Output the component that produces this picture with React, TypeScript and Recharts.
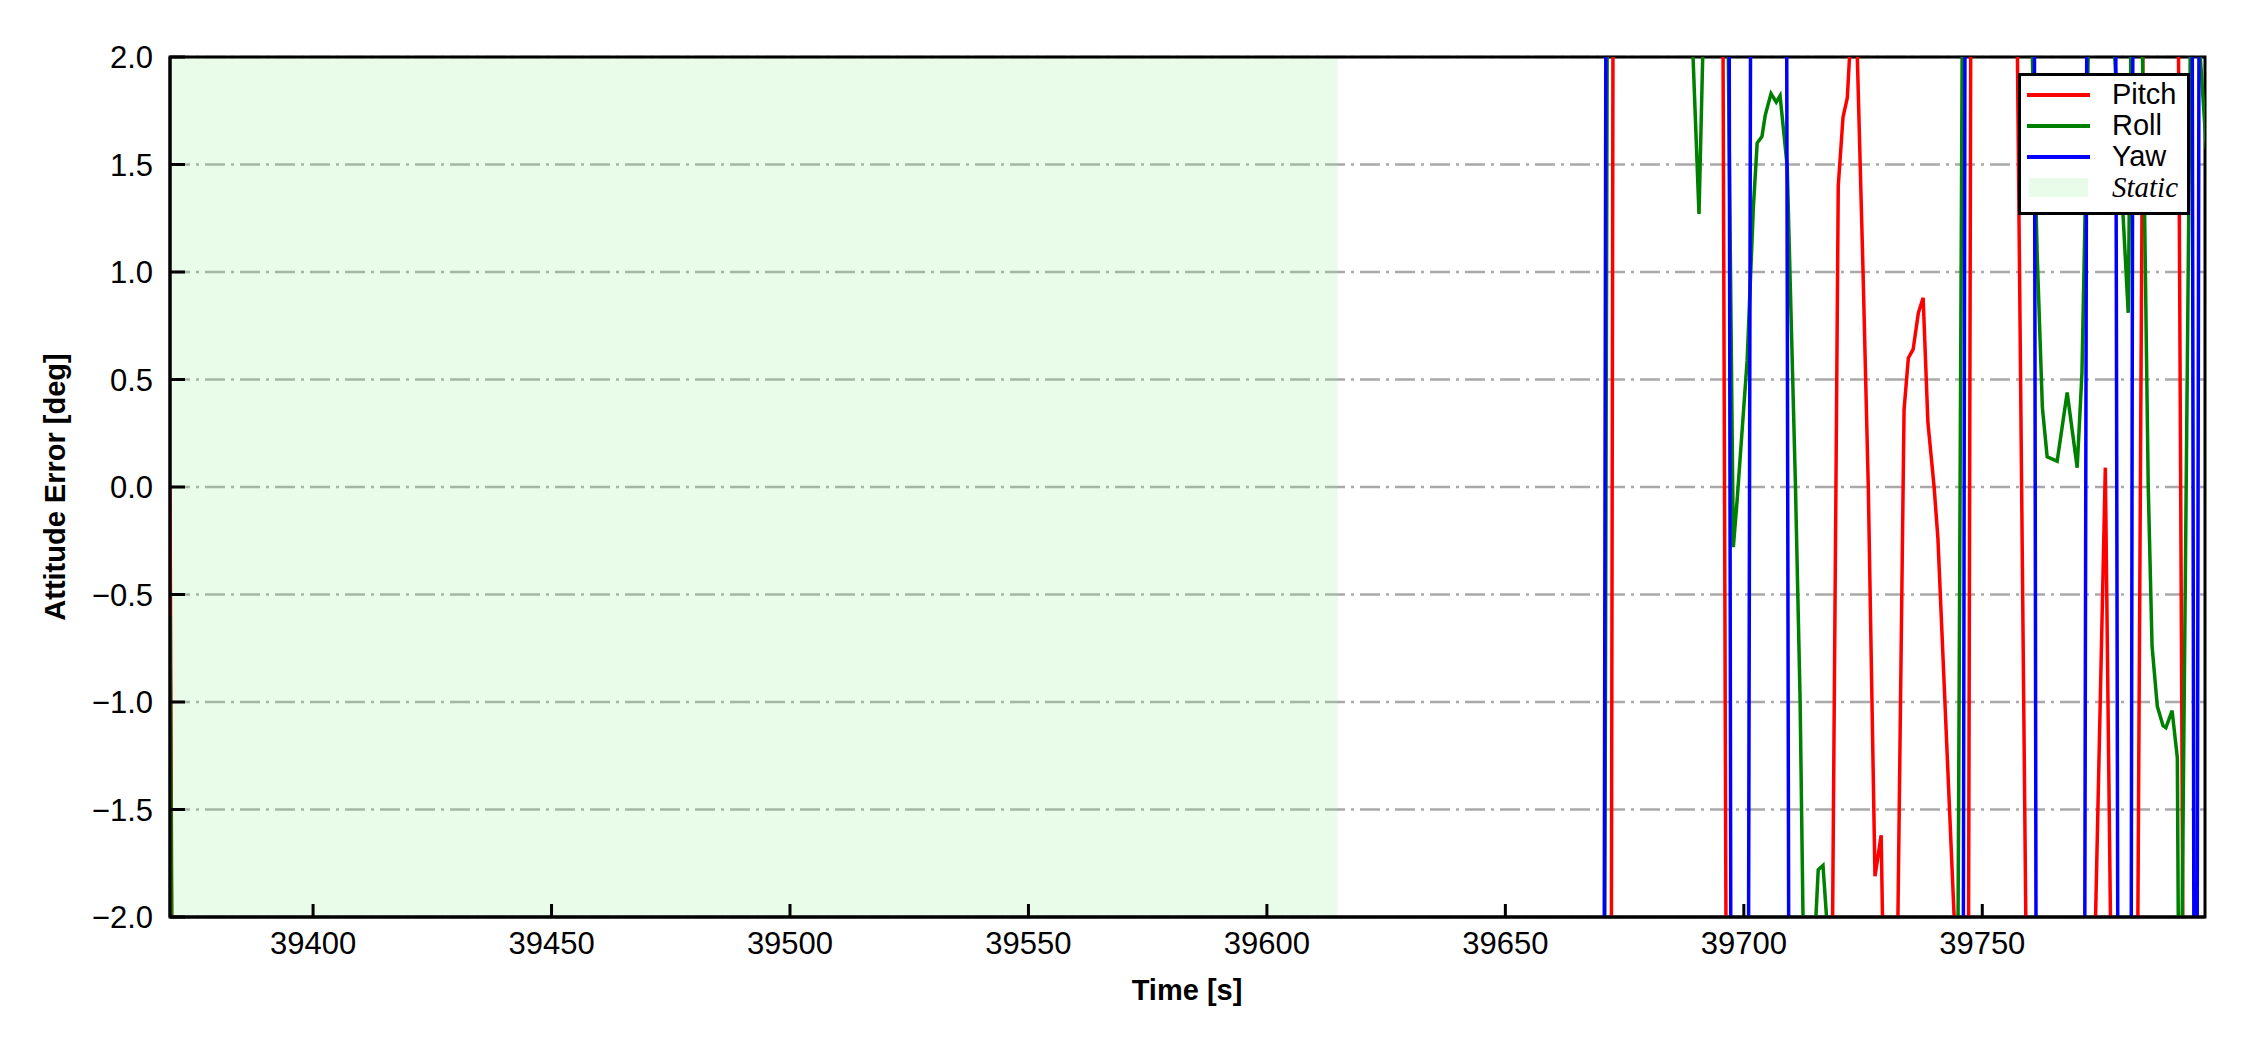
import React from "react";
import {
  LineChart,
  Line,
  XAxis,
  YAxis,
  CartesianGrid,
  ReferenceArea,
  Legend,
  Label,
} from "recharts";

// axis setup
const T_MIN = 39370;
const T_MAX = 39796.7;
const STATIC_END = 39614.8;
const TIME_TICKS = [39400, 39450, 39500, 39550, 39600, 39650, 39700, 39750];
const ERR_TICKS = [-2, -1.5, -1, -0.5, 0, 0.5, 1, 1.5, 2];

// Pitch error (deg) — values outside ±2 are off-scale in the original
const pitchT = [
  39370.0, 39370.9, 39672.0, 39672.8, 39695.2, 39696.7, 39718.1, 39719.8,
  39720.8, 39721.7, 39722.9, 39723.8, 39725.0, 39726.1, 39727.5, 39728.8,
  39729.8, 39731.5, 39733.4, 39733.6, 39734.5, 39735.5, 39736.6, 39737.6,
  39738.6, 39739.9, 39740.7, 39744.1, 39744.9, 39746.8, 39747.9, 39756.5,
  39760.0, 39771.8, 39775.8, 39777.9, 39782.1, 39784.2, 39790.7, 39792.5,
  39797.0,
];
const pitchV = [
  0.0, -5, -5, 5, 5, -5, -3.5, 1.4, 1.72, 1.81, 2.3, 2.0, 1.0, 0.0, -1.81,
  -1.62, -3.0, -3.5, 0.0, 0.36, 0.6, 0.64, 0.81, 0.88, 0.3, 0.0, -0.24, -2.0,
  -3.0, -5, 5, 4, -4, -4, 0.09, -4, -4, 4, 4, -4, -5,
];

// Roll error (deg)
const rollT = [
  39370.0, 39371.0, 39670.5, 39671.7, 39688.5, 39690.6, 39691.7, 39696.1,
  39697.8, 39698.6, 39700.7, 39702.0, 39702.8, 39703.8, 39704.5, 39705.7,
  39706.8, 39707.6, 39709.1, 39710.8, 39711.8, 39712.4, 39713.1, 39714.3,
  39715.0, 39715.6, 39716.6, 39717.5, 39718.1, 39744.5, 39746.2, 39760.0,
  39760.5, 39761.5, 39762.6, 39763.6, 39765.7, 39767.8, 39769.9, 39770.9,
  39772.2, 39772.6, 39777.3, 39780.6, 39781.6, 39783.3, 39784.8, 39785.6,
  39786.7, 39787.9, 39788.5, 39789.8, 39790.9, 39791.3, 39791.7, 39793.6,
  39794.3, 39795.2, 39797.0,
];
const rollV = [
  -0.6, -5, -5, 5, 2.5, 1.27, 2.3, 3.4, -0.28, -0.06, 0.59, 1.3, 1.6, 1.63,
  1.73, 1.83, 1.79, 1.82, 1.49, 0.03, -0.99, -1.98, -3, -4, -2.05, -1.78,
  -1.76, -2.05, -4, -4, 4, 3, 2.0, 1.09, 0.37, 0.14, 0.12, 0.44, 0.09, 0.53,
  2.0, 3, 2.2, 0.81, 3.0, 2.5, 0.0, -0.74, -1.02, -1.11, -1.12, -1.04, -1.26,
  -2.8, -2.5, 2.0, 3, 2.17, 1.57,
];

// Yaw error (deg)
const yawT = [
  39370.0, 39670.5, 39671.3, 39696.7, 39697.5, 39700.7, 39701.7, 39708.7,
  39709.7, 39745.8, 39746.6, 39760.7, 39761.5, 39771.2, 39772.2, 39777.7,
  39778.7, 39781.0, 39781.8, 39793.8, 39794.6, 39794.8, 39795.7, 39797.0,
];
const yawV = [
  -5, -5, 5, 5, -5, -5, 5, 5, -5, -5, 5, 5, -5, -5, 5, 5, -5, -5, 5, 5, -5,
  -5, 5, 5,
];

const toRows = (ts: number[], vs: number[]) =>
  ts.map((t, i) => ({ t, v: vs[i] }));

const SERIES = [
  { name: "Pitch", color: "#ff0000", data: toRows(pitchT, pitchV) },
  { name: "Roll", color: "#008000", data: toRows(rollT, rollV) },
  { name: "Yaw", color: "#0000ff", data: toRows(yawT, yawV) },
];

const FONT = '"Liberation Sans", Arial, sans-serif';

function TimeTick(props: any) {
  const { x, y, payload } = props;
  return (
    <g>
      <line x1={x} x2={x} y1={y} y2={y - 13} stroke="#000" strokeWidth={3} />
      <text x={x} y={y + 37} textAnchor="middle" fontSize={31} fill="#000">
        {payload.value}
      </text>
    </g>
  );
}

function ErrTick(props: any) {
  const { x, y, payload } = props;
  const label = Number(payload.value).toFixed(1).replace("-", "\u2212");
  return (
    <g>
      <line x1={x} x2={x + 15} y1={y} y2={y} stroke="#000" strokeWidth={3} />
      <text x={x - 17} y={y + 11} textAnchor="end" fontSize={31} fill="#000">
        {label}
      </text>
    </g>
  );
}

function LegendBox() {
  return (
    <div
      style={{
        boxSizing: "border-box",
        width: 172,
        height: 142,
        border: "3px solid #000",
        background: "#fff",
        padding: "3px 0 0 6px",
        fontFamily: FONT,
        color: "#000",
      }}
    >
      {SERIES.map((s) => (
        <div
          key={s.name}
          style={{ display: "flex", alignItems: "center", height: 31 }}
        >
          <div style={{ width: 63, height: 4, background: s.color }} />
          <span style={{ marginLeft: 22, fontSize: 29, lineHeight: "31px" }}>
            {s.name}
          </span>
        </div>
      ))}
      <div style={{ display: "flex", alignItems: "center", height: 31 }}>
        <div style={{ width: 63, display: "flex", justifyContent: "center" }}>
          <div style={{ width: 59, height: 19, background: "#e9fce9" }} />
        </div>
        <span
          style={{
            marginLeft: 22,
            fontSize: 29,
            lineHeight: "31px",
            fontFamily: '"Liberation Serif", "Times New Roman", serif',
            fontStyle: "italic",
          }}
        >
          Static
        </span>
      </div>
    </div>
  );
}

export default function App() {
  return (
    <div
      style={{
        position: "absolute",
        left: 0,
        top: 0,
        width: 2250,
        height: 1050,
        background: "#fff",
        fontFamily: FONT,
      }}
    >
      <LineChart
        width={2250}
        height={1050}
        margin={{ top: 57, right: 45, bottom: 0, left: 0 }}
      >
        <ReferenceArea
          x1={T_MIN}
          x2={STATIC_END}
          y1={-2}
          y2={2}
          fill="#90ee90"
          fillOpacity={0.2}
          stroke="none"
          ifOverflow="visible"
        />
        <CartesianGrid
          vertical={false}
          stroke="#a9a9a9"
          strokeWidth={2.5}
          strokeDasharray="20 6 3 6"
        />
        <XAxis
          dataKey="t"
          type="number"
          domain={[T_MIN, T_MAX]}
          allowDataOverflow
          ticks={TIME_TICKS}
          interval={0}
          height={133}
          tickSize={0}
          tickMargin={0}
          tick={TimeTick}
          axisLine={{ stroke: "#000", strokeWidth: 3 }}
        >
          <Label
            content={() => (
              <text
                x={1187}
                y={1000}
                textAnchor="middle"
                fontSize={29}
                fontWeight="bold"
                fill="#000"
              >
                Time [s]
              </text>
            )}
          />
        </XAxis>
        <YAxis
          type="number"
          domain={[-2, 2]}
          allowDataOverflow
          ticks={ERR_TICKS}
          interval={0}
          width={170}
          tickSize={0}
          tickMargin={0}
          tick={ErrTick}
          axisLine={{ stroke: "#000", strokeWidth: 3 }}
        >
          <Label
            content={() => (
              <text
                transform="translate(65,487) rotate(-90)"
                textAnchor="middle"
                fontSize={29}
                fontWeight="bold"
                fill="#000"
              >
                Attitude Error [deg]
              </text>
            )}
          />
        </YAxis>
        {SERIES.map((s) => (
          <Line
            key={s.name}
            name={s.name}
            data={s.data}
            dataKey="v"
            type="linear"
            stroke={s.color}
            strokeWidth={3.5}
            dot={false}
            activeDot={false}
            isAnimationActive={false}
          />
        ))}
        <ReferenceArea
          x1={T_MIN}
          x2={T_MAX}
          y1={-2}
          y2={2}
          fill="none"
          stroke="#000"
          strokeWidth={3}
          ifOverflow="visible"
        />
        <Legend
          layout="vertical"
          align="center"
          verticalAlign="middle"
          wrapperStyle={{ left: 2018, top: 73, width: 172, height: 142 }}
          content={() => <LegendBox />}
        />
      </LineChart>
    </div>
  );
}
